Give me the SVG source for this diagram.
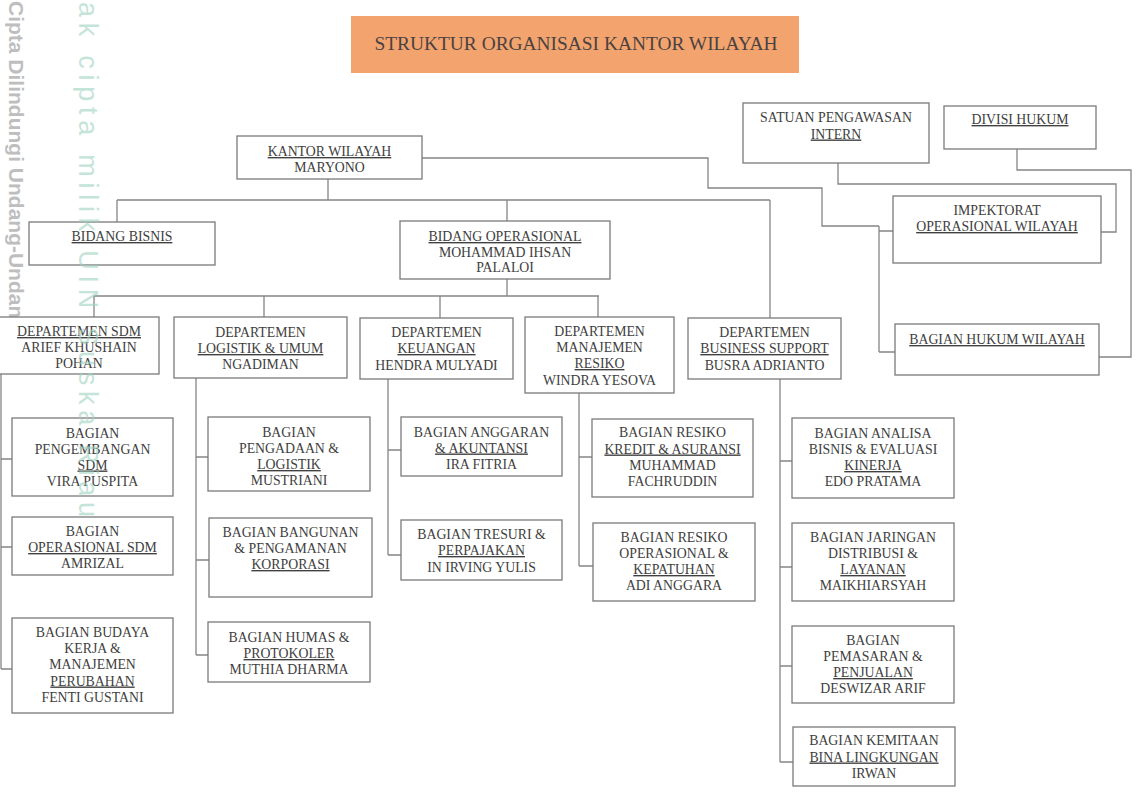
<svg xmlns="http://www.w3.org/2000/svg" width="1136" height="798" viewBox="0 0 1136 798">
<style>
.bx{fill:#fff;stroke:#7a7a7a;stroke-width:1.3}
.t{font-family:"Liberation Serif","Times New Roman",serif;font-size:13.8px;fill:#404040;text-anchor:middle}
.u{text-decoration:underline}
.ln{fill:none;stroke:#858585;stroke-width:1.3}
</style>
<rect width="1136" height="798" fill="#fff"/>
<g id="watermark-back" style="font-family:'Liberation Sans',Arial,sans-serif">
<text transform="translate(9,0) rotate(90)" x="1" y="0" font-size="21" font-weight="bold" fill="#a9a9a9" opacity="0.75">Cipta Dilindungi Undang-Undang</text>
</g>
<g id="title">
<rect x="351" y="16" width="448" height="57" fill="#F3A46E"/>
<text x="576" y="50" class="t" style="font-size:19.4px;fill:#4a4242">STRUKTUR ORGANISASI KANTOR WILAYAH</text>
</g>
<g id="connectors" class="ln">
<path d="M328,179V200M117,200H770M117,200V222M507,200V221M770,200V318"/>
<path d="M422,158H708V188H822V226H879M879,226V352M879,231H893M879,352H895"/>
<path d="M838,163V184H1116V232H1101"/>
<path d="M1017,149V170H1131V357H1099"/>
<path d="M507,279V296M94,296H599M94,296V317M264,296V317M440,296V318M598,296V317"/>
<path d="M1,374V669M1,459H12M1,547H12M1,669H12"/>
<path d="M196,378V655M196,457H208M196,560H209M196,655H208"/>
<path d="M388,379V555M388,450H401M388,555H401"/>
<path d="M579,393V566M579,457H592M579,566H593"/>
<path d="M780,379V762M780,461H792M780,567H792M780,666H792M780,762H793"/>
</g>
<g id="kantor-wilayah"><rect class="bx" x="237" y="136" width="185" height="43"/>
<text class="t" x="329.5"><tspan class="u" x="329.5" y="156">KANTOR WILAYAH</tspan><tspan x="329.5" y="171.5">MARYONO</tspan></text></g>
<g id="bidang-bisnis"><rect class="bx" x="29" y="222" width="186" height="43"/>
<text class="t"><tspan class="u" x="122" y="241">BIDANG BISNIS</tspan></text></g>
<g id="bidang-operasional"><rect class="bx" x="400" y="221" width="210" height="58"/>
<text class="t"><tspan class="u" x="505" y="241">BIDANG OPERASIONAL</tspan><tspan x="505" y="256.5">MOHAMMAD IHSAN</tspan><tspan x="505" y="272">PALALOI</tspan></text></g>
<g id="satuan-pengawasan"><rect class="bx" x="743" y="103" width="186" height="60"/>
<text class="t"><tspan x="836" y="122">SATUAN PENGAWASAN</tspan><tspan class="u" x="836" y="138.5">INTERN</tspan></text></g>
<g id="divisi-hukum"><rect class="bx" x="944" y="106" width="152" height="43"/>
<text class="t"><tspan class="u" x="1020" y="124">DIVISI HUKUM</tspan></text></g>
<g id="impektorat"><rect class="bx" x="893" y="196" width="208" height="67"/>
<text class="t"><tspan x="997" y="215">IMPEKTORAT</tspan><tspan class="u" x="997" y="231">OPERASIONAL WILAYAH</tspan></text></g>
<g id="bagian-hukum-wilayah"><rect class="bx" x="895" y="324" width="204" height="51"/>
<text class="t"><tspan class="u" x="997" y="344">BAGIAN HUKUM WILAYAH</tspan></text></g>
<g id="dept-sdm"><rect class="bx" x="-1" y="317" width="160" height="57"/>
<text class="t"><tspan class="u" x="79" y="336">DEPARTEMEN SDM</tspan><tspan x="79" y="352">ARIEF KHUSHAIN</tspan><tspan x="79" y="367.5">POHAN</tspan></text></g>
<g id="dept-logistik"><rect class="bx" x="174" y="317" width="173" height="61"/>
<text class="t"><tspan x="260.5" y="337">DEPARTEMEN</tspan><tspan class="u" x="260.5" y="353">LOGISTIK &amp; UMUM</tspan><tspan x="260.5" y="369">NGADIMAN</tspan></text></g>
<g id="dept-keuangan"><rect class="bx" x="360" y="318" width="153" height="61"/>
<text class="t"><tspan x="436.5" y="337">DEPARTEMEN</tspan><tspan class="u" x="436.5" y="353">KEUANGAN</tspan><tspan x="436.5" y="370">HENDRA MULYADI</tspan></text></g>
<g id="dept-resiko"><rect class="bx" x="525" y="317" width="149" height="76"/>
<text class="t"><tspan x="599.5" y="336">DEPARTEMEN</tspan><tspan x="599.5" y="352">MANAJEMEN</tspan><tspan class="u" x="599.5" y="368">RESIKO</tspan><tspan x="599.5" y="385">WINDRA YESOVA</tspan></text></g>
<g id="dept-business-support"><rect class="bx" x="688" y="318" width="153" height="61"/>
<text class="t"><tspan x="764.5" y="337">DEPARTEMEN</tspan><tspan class="u" x="764.5" y="353">BUSINESS SUPPORT</tspan><tspan x="764.5" y="370">BUSRA ADRIANTO</tspan></text></g>
<g id="bagian-pengembangan-sdm"><rect class="bx" x="12" y="418" width="161" height="78"/>
<text class="t"><tspan x="92.5" y="437.5">BAGIAN</tspan><tspan x="92.5" y="453.5">PENGEMBANGAN</tspan><tspan class="u" x="92.5" y="469.5">SDM</tspan><tspan x="92.5" y="486">VIRA PUSPITA</tspan></text></g>
<g id="bagian-operasional-sdm"><rect class="bx" x="12" y="517" width="161" height="58"/>
<text class="t"><tspan x="92.5" y="536">BAGIAN</tspan><tspan class="u" x="92.5" y="552">OPERASIONAL SDM</tspan><tspan x="92.5" y="568">AMRIZAL</tspan></text></g>
<g id="bagian-budaya-kerja"><rect class="bx" x="12" y="618" width="161" height="95"/>
<text class="t"><tspan x="92.5" y="637">BAGIAN BUDAYA</tspan><tspan x="92.5" y="653">KERJA &amp;</tspan><tspan x="92.5" y="669">MANAJEMEN</tspan><tspan class="u" x="92.5" y="685.5">PERUBAHAN</tspan><tspan x="92.5" y="702">FENTI GUSTANI</tspan></text></g>
<g id="bagian-pengadaan"><rect class="bx" x="208" y="417" width="162" height="74"/>
<text class="t"><tspan x="289" y="436.5">BAGIAN</tspan><tspan x="289" y="452.5">PENGADAAN &amp;</tspan><tspan class="u" x="289" y="469">LOGISTIK</tspan><tspan x="289" y="485">MUSTRIANI</tspan></text></g>
<g id="bagian-bangunan"><rect class="bx" x="209" y="518" width="163" height="79"/>
<text class="t"><tspan x="290.5" y="537">BAGIAN BANGUNAN</tspan><tspan x="290.5" y="553">&amp; PENGAMANAN</tspan><tspan class="u" x="290.5" y="569">KORPORASI</tspan></text></g>
<g id="bagian-humas"><rect class="bx" x="208" y="622" width="162" height="60"/>
<text class="t"><tspan x="289" y="641.5">BAGIAN HUMAS &amp;</tspan><tspan class="u" x="289" y="658">PROTOKOLER</tspan><tspan x="289" y="674">MUTHIA DHARMA</tspan></text></g>
<g id="bagian-anggaran"><rect class="bx" x="401" y="417" width="161" height="59"/>
<text class="t"><tspan x="481.5" y="437">BAGIAN ANGGARAN</tspan><tspan class="u" x="481.5" y="452.5">&amp; AKUNTANSI</tspan><tspan x="481.5" y="468.5">IRA FITRIA</tspan></text></g>
<g id="bagian-tresuri"><rect class="bx" x="401" y="520" width="161" height="60"/>
<text class="t"><tspan x="481.5" y="539">BAGIAN TRESURI &amp;</tspan><tspan class="u" x="481.5" y="555">PERPAJAKAN</tspan><tspan x="481.5" y="571.5">IN IRVING YULIS</tspan></text></g>
<g id="bagian-resiko-kredit"><rect class="bx" x="592" y="419" width="161" height="78"/>
<text class="t"><tspan x="672.5" y="437">BAGIAN RESIKO</tspan><tspan class="u" x="672.5" y="453.5">KREDIT &amp; ASURANSI</tspan><tspan x="672.5" y="469.5">MUHAMMAD</tspan><tspan x="672.5" y="486">FACHRUDDIN</tspan></text></g>
<g id="bagian-resiko-operasional"><rect class="bx" x="593" y="523" width="162" height="78"/>
<text class="t"><tspan x="674" y="542">BAGIAN RESIKO</tspan><tspan x="674" y="558">OPERASIONAL &amp;</tspan><tspan class="u" x="674" y="574">KEPATUHAN</tspan><tspan x="674" y="590">ADI ANGGARA</tspan></text></g>
<g id="bagian-analisa-bisnis"><rect class="bx" x="792" y="418" width="162" height="80"/>
<text class="t"><tspan x="873" y="437.5">BAGIAN ANALISA</tspan><tspan x="873" y="454">BISNIS &amp; EVALUASI</tspan><tspan class="u" x="873" y="470">KINERJA</tspan><tspan x="873" y="486">EDO PRATAMA</tspan></text></g>
<g id="bagian-jaringan"><rect class="bx" x="792" y="523" width="162" height="78"/>
<text class="t"><tspan x="873" y="542">BAGIAN JARINGAN</tspan><tspan x="873" y="558">DISTRIBUSI &amp;</tspan><tspan class="u" x="873" y="574">LAYANAN</tspan><tspan x="873" y="590">MAIKHIARSYAH</tspan></text></g>
<g id="bagian-pemasaran"><rect class="bx" x="792" y="626" width="162" height="77"/>
<text class="t"><tspan x="873" y="645">BAGIAN</tspan><tspan x="873" y="661">PEMASARAN &amp;</tspan><tspan class="u" x="873" y="677">PENJUALAN</tspan><tspan x="873" y="693">DESWIZAR ARIF</tspan></text></g>
<g id="bagian-kemitaan"><rect class="bx" x="793" y="727" width="162" height="59"/>
<text class="t"><tspan x="874" y="745">BAGIAN KEMITAAN</tspan><tspan class="u" x="874" y="761.5">BINA LINGKUNGAN</tspan><tspan x="874" y="777.5">IRWAN</tspan></text></g>
<g id="watermark" style="font-family:'Liberation Sans',Arial,sans-serif">
<text transform="translate(79,0) rotate(90)" x="2" y="0" font-size="27" fill="#9fd3c0" opacity="0.6" textLength="515" lengthAdjust="spacing">ak cipta milik UIN Suska Riau</text>
</g>
</svg>
